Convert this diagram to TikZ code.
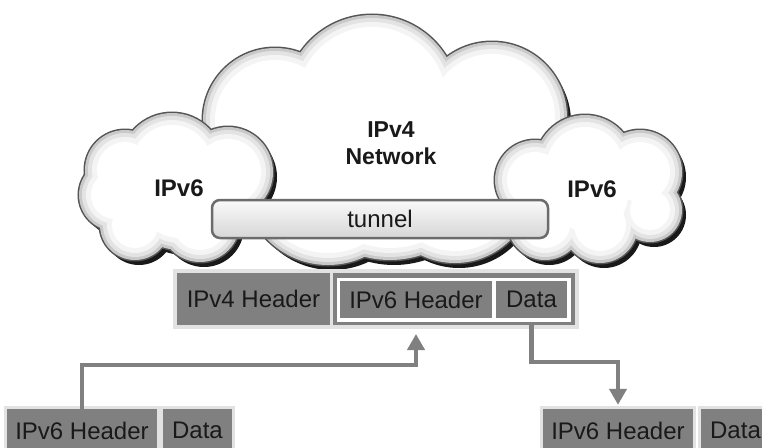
\documentclass[tikz,border=0pt]{standalone}
\usepackage{fontspec}
\setmainfont{Liberation Sans}
\usetikzlibrary{arrows.meta,calc}
\definecolor{boxgray}{RGB}{128,128,128}
\definecolor{halo}{RGB}{226,226,226}
\definecolor{txt}{RGB}{25,25,25}
\definecolor{rim}{RGB}{85,85,85}
\newcommand\mycloud[1]{%
  \foreach \cx/\cy/\cr in {#1} \fill[black!90] (\cx+4,\cy+5) circle[radius=\cr pt];
  \foreach \cx/\cy/\cr in {#1} \draw[rim, line width=3pt] (\cx,\cy) circle[radius=\cr pt];
  \foreach \cx/\cy/\cr in {#1} \fill[gray!42] (\cx,\cy) circle[radius=\cr pt];
  \foreach \cx/\cy/\cr in {#1} \fill[gray!22] (\cx,\cy) circle[radius={(\cr-3)*1pt}];
  \foreach \cx/\cy/\cr in {#1} \fill[gray!9] (\cx,\cy) circle[radius={(\cr-7)*1pt}];
  \foreach \cx/\cy/\cr in {#1} \fill[white] (\cx,\cy) circle[radius={(\cr-12)*1pt}];
}
\begin{document}
\begin{tikzpicture}[x=1pt,y=-1pt,
  pbox/.style={fill=boxgray, text=txt, inner sep=0pt, font=\fontsize{24}{28}\selectfont},
  haloed/.style={preaction={draw=halo, line width=6pt}},
  plain/.style={inner sep=0pt, outer sep=0pt},
  cloudtxt/.style={text=txt, align=center, inner sep=0pt, font=\bfseries\fontsize{23}{27}\selectfont},
  tunnelbox/.style={draw=gray!85!black, line width=2.5pt, rounded corners=8pt, top color=gray!4, bottom color=gray!32, text=txt, inner sep=0pt, font=\fontsize{24}{28}\selectfont},
  conn/.style={draw=boxgray, line width=4.5pt, -{Triangle[length=16pt,width=17pt]}}]
\fill[white] (0,0) rectangle (762,447);
\clip (0,0) rectangle (762,447);

% clouds
\mycloud{372/102/87, 492/117/75, 275/120/72, 328/180/85, 455/185/78, 390/160/100}
\mycloud{172/165/52, 125/170/40, 228/172/45, 115/195/36, 135/225/35, 200/222/40, 180/195/55}
\mycloud{585/165/50, 535/180/40, 640/172/42, 650/210/32, 600/225/38, 545/222/38, 590/195/50}

\node[cloudtxt] (v4) at (391,143.5) {IPv4\\Network};
\node[cloudtxt, font=\bfseries\fontsize{24}{28}\selectfont] (l6) at (179,188) {IPv6};
\node[cloudtxt, font=\bfseries\fontsize{24}{28}\selectfont] (r6) at (592,189) {IPv6};

\node[tunnelbox, minimum width=336pt, minimum height=38pt] (tun) at (380,219) {tunnel};

% packet
\node[plain, fill=halo, minimum width=406pt, minimum height=60pt] (pkt) at (376,299) {};
\node[pbox, minimum width=153pt, minimum height=52pt] (p4) at (253.5,299) {IPv4 Header};
\node[plain, fill=boxgray, minimum width=242pt, minimum height=52pt] (grp) at (454,299) {};
\node[plain, fill=white, minimum width=234pt, minimum height=44pt] (grpin) at (454,299.5) {};
\node[pbox, minimum width=152pt, minimum height=37pt] (p6) at (416,299.5) {IPv6 Header};
\node[pbox, minimum width=71pt, minimum height=37pt] (pd) at (531.5,299.5) {Data};

% bottom packets
\node[pbox, haloed, minimum width=150pt, minimum height=43pt] (bl6) at (82,430.5) {IPv6 Header};
\node[pbox, haloed, minimum width=69pt, minimum height=43pt] (bld) at (197.5,430.5) {Data};
\node[pbox, haloed, minimum width=150pt, minimum height=43pt] (br6) at (618,430.5) {IPv6 Header};
\node[pbox, haloed, minimum width=69pt, minimum height=43pt] (brd) at (735.5,430.5) {Data};

% connectors
\coordinate (ly) at (0,365);
\coordinate (ry) at (0,362);
\draw[conn] (bl6.north) -- (bl6.north |- ly) -| ($(p6.south |- pkt.south)+(0,5)$);
\draw[conn, shorten >=4pt] (pd.south |- grp.south) -- (pd.south |- ry) -| (br6.north);
\end{tikzpicture}
\end{document}
